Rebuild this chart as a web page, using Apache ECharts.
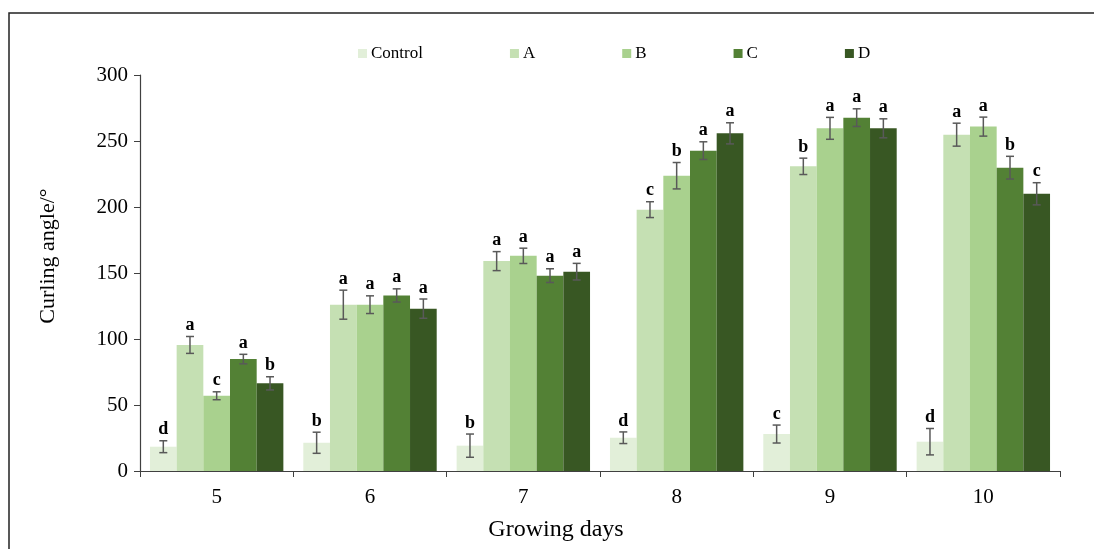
<!DOCTYPE html>
<html>
<head>
<meta charset="utf-8">
<script src="https://cdn.jsdelivr.net/npm/echarts@6/dist/echarts.min.js"></script>
<style>
  html, body { margin: 0; padding: 0; background: #fff; }
  #chart { width: 1094px; height: 549px; }
</style>
</head>
<body>
<div id="chart"></div>
<script>
const days = ["5", "6", "7", "8", "9", "10"];
const groups = ["Control", "A", "B", "C", "D"];
const colors = ["#e2efd9", "#c5e0b3", "#a9d18e", "#538135", "#385723"];

// mean values
const controlData = [18.4, 21.4, 19.2, 25.2, 28, 22.2];
const aData = [95.5, 126, 159, 198, 230.8, 254.8];
const bData = [57, 126, 163, 223.7, 259.6, 260.9];
const cData = [84.8, 133, 148, 242.7, 267.7, 229.8];
const dData = [66.4, 123, 151, 255.8, 259.6, 210];

// error (+/-)
const controlErr = [4.5, 8, 8.8, 4.4, 6.8, 10];
const aErr = [6.4, 11, 7.2, 6, 6.2, 8.7];
const bErr = [3, 6.7, 5.8, 10, 8.3, 7.2];
const cErr = [3.6, 5, 5.2, 6.7, 6.7, 8.6];
const dErr = [5, 7.3, 6.3, 8, 7.2, 8.4];

// significance letters
const controlSig = ["d", "b", "b", "d", "c", "d"];
const aSig = ["a", "a", "a", "c", "b", "a"];
const bSig = ["c", "a", "a", "b", "a", "a"];
const cSig = ["a", "a", "a", "a", "a", "b"];
const dSig = ["b", "a", "a", "a", "a", "c"];

const yTicks = [0, 50, 100, 150, 200, 250, 300];

const values = [controlData, aData, bData, cData, dData];
const errors = [controlErr, aErr, bErr, cErr, dErr];
const letters = [controlSig, aSig, bSig, cSig, dSig];

const catGap = 0.13;
const serif = '"Liberation Serif", "Times New Roman", serif';

function errorItem(si) {
  return function (params, api) {
    const idx = api.value(0);
    const v = api.value(1);
    const e = api.value(2);
    const base = api.coord([idx, 0]);
    const catW = api.size([1, 0])[0];
    const bw = (catW * (1 - catGap)) / groups.length;
    const x = base[0] + (si - 2) * bw;
    const top = api.coord([idx, v + e])[1];
    const bot = api.coord([idx, v - e])[1];
    const cap = 4;
    const line = { stroke: "#595959", lineWidth: 1.5 };
    return {
      type: "group",
      children: [
        { type: "line", shape: { x1: x, y1: top, x2: x, y2: bot }, style: line },
        { type: "line", shape: { x1: x - cap, y1: top, x2: x + cap, y2: top }, style: line },
        { type: "line", shape: { x1: x - cap, y1: bot, x2: x + cap, y2: bot }, style: line },
        {
          type: "text",
          style: {
            text: letters[si][params.dataIndex],
            x: x,
            y: top - 2,
            textAlign: "center",
            textVerticalAlign: "bottom",
            font: "bold 18px " + serif,
            fill: "#000"
          }
        }
      ]
    };
  };
}

const series = [];
groups.forEach((name, i) => {
  series.push({
    name: name,
    type: "bar",
    data: values[i],
    barGap: 0,
    barCategoryGap: catGap * 100 + "%",
    itemStyle: { color: colors[i] },
    silent: true
  });
});
groups.forEach((name, i) => {
  series.push({
    type: "custom",
    renderItem: errorItem(i),
    data: values[i].map((v, k) => [k, v, errors[i][k]]),
    z: 10,
    silent: true
  });
});

const chart = echarts.init(document.getElementById("chart"));
chart.setOption({
  animation: false,
  backgroundColor: "#fff",
  grid: { left: 140, right: 34, top: 75, bottom: 78 },
  legend: {
    data: groups,
    left: 353,
    top: 40,
    itemWidth: 9,
    itemHeight: 9,
    itemGap: 87,
    icon: "rect",
    textStyle: { fontFamily: serif, fontSize: 17, color: "#000", padding: [0, 0, 0, -1] }
  },
  xAxis: {
    type: "category",
    data: days,
    axisLine: { lineStyle: { color: "#404040", width: 1.2 } },
    axisTick: { show: true, length: 6, lineStyle: { color: "#404040" } },
    axisLabel: { fontFamily: serif, fontSize: 21, color: "#000", margin: 16 }
  },
  yAxis: {
    type: "value",
    min: yTicks[0],
    max: yTicks[yTicks.length - 1],
    interval: 50,
    axisLine: { show: true, lineStyle: { color: "#404040", width: 1.2 } },
    axisTick: { show: true, length: 6, lineStyle: { color: "#404040" } },
    splitLine: { show: false },
    axisLabel: { fontFamily: serif, fontSize: 21, color: "#000", margin: 12 }
  },
  graphic: [
    {
      type: "rect",
      shape: { x: 9, y: 13, width: 1200, height: 700 },
      style: { fill: "none", stroke: "#222", lineWidth: 1.5 },
      silent: true
    },
    {
      type: "text",
      x: 556,
      y: 530,
      style: {
        text: "Growing days",
        textAlign: "center",
        textVerticalAlign: "middle",
        font: "24px " + serif,
        fill: "#000"
      }
    },
    {
      type: "text",
      x: 48,
      y: 256,
      rotation: Math.PI / 2,
      style: {
        text: "Curling angle/°",
        textAlign: "center",
        textVerticalAlign: "middle",
        font: "22px " + serif,
        fill: "#000"
      }
    }
  ],
  series: series
});
</script>
</body>
</html>
